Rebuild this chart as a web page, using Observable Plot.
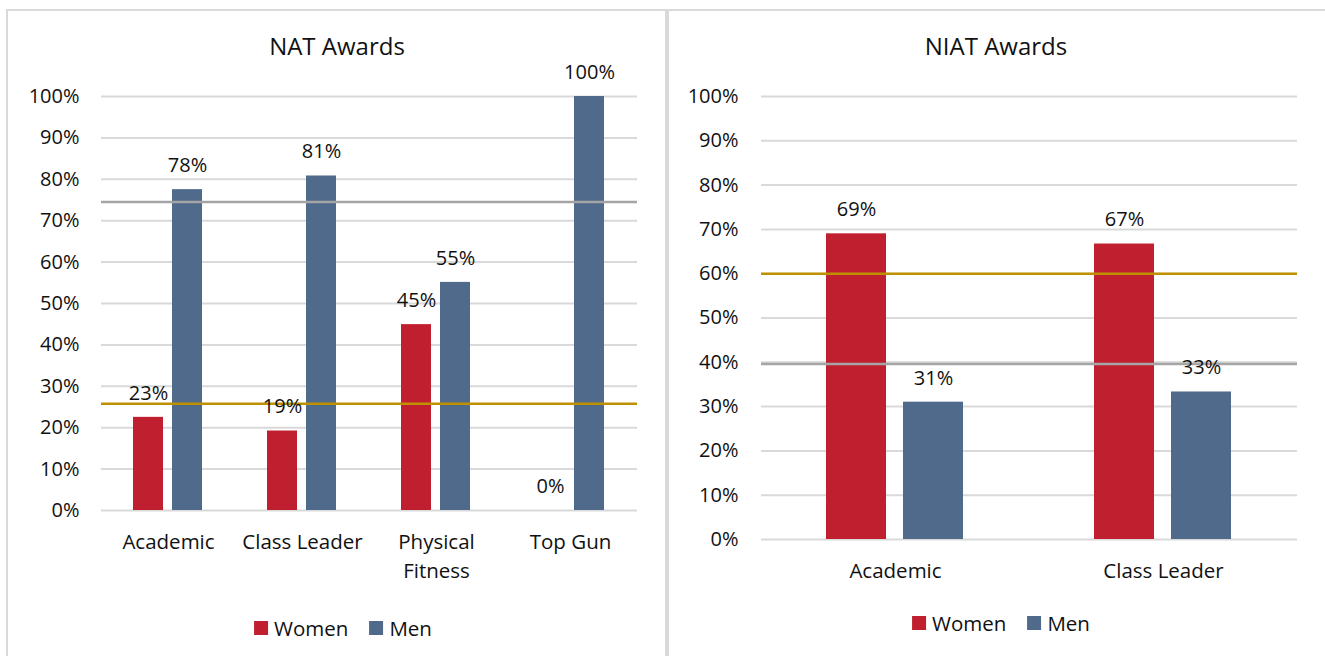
<!DOCTYPE html>
<html>
<head>
<meta charset="utf-8">
<script src="https://cdn.jsdelivr.net/npm/d3@7"></script>
<script src="https://cdn.jsdelivr.net/npm/@observablehq/plot@0.6"></script>
<style>
  body { margin: 0; background: #fff; }
  #page { position: relative; width: 1325px; height: 656px; overflow: hidden; font-family: "Open Sans", sans-serif; color: #111; background: #fff; }
  .panel { position: absolute; border: 2px solid #d9d9d9; box-sizing: border-box; pointer-events: none; z-index: 3; }
  .chart { position: absolute; top: 0; z-index: 1; }
  .title { position: absolute; font-size: 24px; line-height: 1; transform: translateX(-50%); white-space: nowrap; z-index: 2; }
  .legend { position: absolute; transform: translateX(-50%); display: flex; align-items: center; font-size: 20.5px; line-height: 1; white-space: nowrap; z-index: 2; }
  .item { display: flex; align-items: center; }
  .item + .item { margin-left: 21px; }
  .sw { display: inline-block; width: 14px; height: 14px; margin-right: 6px; }
</style>
</head>
<body>
<div id="page"></div>
<script>
// ---------- data ----------
const series = ["Women", "Men"];
const seriesColors = ["#C01F2F", "#506A8C"];
const lineColors = { women: "#BF9000", men: "#A5A5A5" };
const yTicks = [0, 10, 20, 30, 40, 50, 60, 70, 80, 90, 100];

const natTitle = "NAT Awards";
const natCategories = ["Academic", "Class Leader", "Physical Fitness", "Top Gun"];
const natTickLabels = ["Academic", "Class Leader", "Physical\nFitness", "Top Gun"];
const natWomen = [22.5, 19.2, 44.9, 0];
const natMen = [77.5, 80.8, 55.1, 100];
const natWomenShare = 25.8;
const natMenShare = 74.5;

const niatTitle = "NIAT Awards";
const niatCategories = ["Academic", "Class Leader"];
const niatTickLabels = ["Academic", "Class Leader"];
const niatWomen = [69.0, 66.7];
const niatMen = [31.0, 33.3];
const niatWomenShare = 60.0;
const niatMenShare = 39.6;

// ---------- chart builder ----------
function makeChart(cfg) {
  const rows = cfg.cats.flatMap((c, i) => [
    { category: c, series: "Women", value: cfg.women[i] },
    { category: c, series: "Men", value: cfg.men[i] }
  ]);
  return Plot.plot({
    width: cfg.width,
    height: cfg.height,
    marginTop: cfg.mt, marginRight: cfg.mr, marginBottom: cfg.mb, marginLeft: cfg.ml,
    style: { fontFamily: '"Open Sans", sans-serif', fontSize: "20px", color: "#111", background: "transparent", overflow: "visible" },
    fx: { domain: cfg.cats, padding: 0, label: null },
    x: { domain: series, paddingInner: cfg.pi, paddingOuter: cfg.po, axis: null },
    y: { domain: [0, 100], axis: null },
    color: { domain: series, range: seriesColors },
    marks: [
      Plot.gridY(yTicks, { stroke: "#d9d9d9", strokeOpacity: 1, strokeWidth: 2 }),
      Plot.axisY(yTicks, { tickSize: 0, tickPadding: cfg.tp, tickFormat: d => d + "%", fontSize: 20, label: null }),
      Plot.axisFx({ anchor: "bottom", tickSize: 0, tickPadding: 18, tickFormat: d => cfg.labels[cfg.cats.indexOf(d)], fontSize: 20.5, lineHeight: 1.4, label: null }),
      Plot.barY(rows, { fx: "category", x: "series", y: "value", fill: "series" }),
      Plot.ruleY([cfg.menShare], { stroke: lineColors.men, strokeWidth: 2.5 }),
      Plot.ruleY([cfg.womenShare], { stroke: lineColors.women, strokeWidth: 2.5 }),
      Plot.text(rows, { fx: "category", x: "series", y: "value", text: d => Math.round(d.value) + "%", dy: -24, fontSize: 20, fill: "#111" })
    ]
  });
}

function addDiv(cls, css, html) {
  const d = document.createElement("div");
  d.className = cls;
  Object.assign(d.style, css);
  if (html !== undefined) d.innerHTML = html;
  document.getElementById("page").appendChild(d);
  return d;
}

function legend(cx, top) {
  const items = series.map((s, i) =>
    `<span class="item"><span class="sw" style="background:${seriesColors[i]}"></span>${s}</span>`).join("");
  addDiv("legend", { left: cx + "px", top: top + "px" }, items);
}

const page = document.getElementById("page");

// left chart
const left = makeChart({
  cats: natCategories, labels: natTickLabels, women: natWomen, men: natMen,
  womenShare: natWomenShare, menShare: natMenShare,
  width: 666, height: 656, mt: 96, mr: 29, mb: 146, ml: 101,
  pi: 0.23, po: 0.83, tp: 22
});
left.classList.add("chart");
left.style.left = "0px";
page.appendChild(left);

// right chart
const right = makeChart({
  cats: niatCategories, labels: niatTickLabels, women: niatWomen, men: niatMen,
  womenShare: niatWomenShare, menShare: niatMenShare,
  width: 658, height: 656, mt: 96, mr: 28, mb: 117, ml: 94,
  pi: 0.22, po: 0.85, tp: 23
});
right.classList.add("chart");
right.style.left = "667px";
page.appendChild(right);

// panels
addDiv("panel", { left: "6px", top: "9px", width: "661px", height: "700px" });
addDiv("panel", { left: "667px", top: "9px", width: "700px", height: "700px" });

// titles
addDiv("title", { left: "337px", top: "34px" }, natTitle);
addDiv("title", { left: "996px", top: "34px" }, niatTitle);

// legends
legend(343, 618);
legend(1001, 613);
</script>
</body>
</html>
